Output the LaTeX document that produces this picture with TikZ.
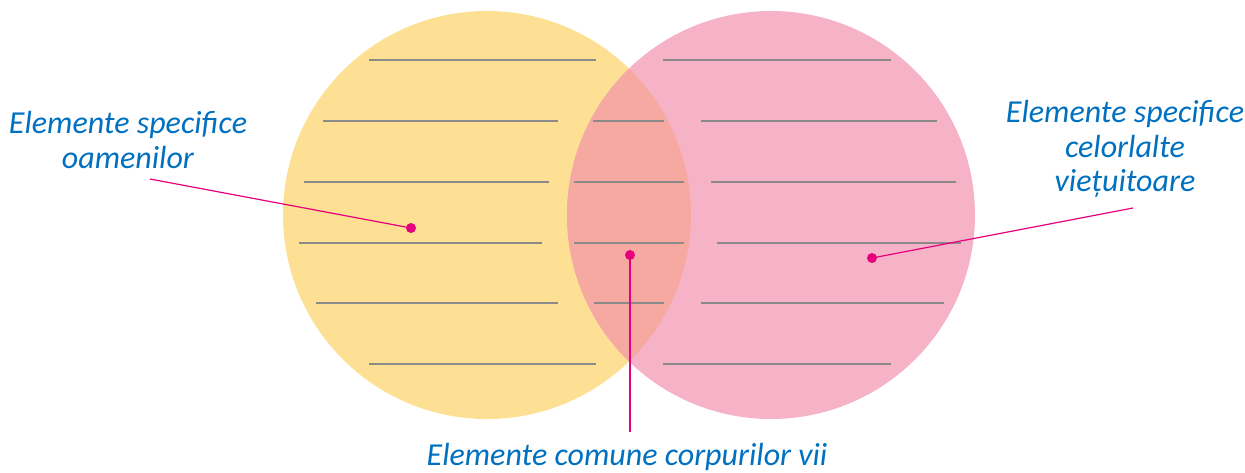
\documentclass[tikz,border=0pt]{standalone}
\usepackage{fontspec}
\setmainfont{Carlito}
\usepackage{tikz}
\usetikzlibrary{positioning}
\definecolor{setA}{HTML}{FDE093}
\definecolor{setB}{HTML}{F6B3C8}
\definecolor{setAB}{HTML}{F6A9A0}
\definecolor{rulegray}{HTML}{8A8A8A}
\definecolor{labelblue}{HTML}{0070C0}
\definecolor{pointer}{HTML}{E6007E}
\tikzset{
  rule/.style={draw=rulegray, line width=1.3pt},
  lbl/.style={text=labelblue, font=\fontsize{32}{34.5}\selectfont\itshape, align=center, inner sep=0pt},
  pin/.style={draw=pointer, line width=1.2pt},
  pindot/.style={circle, fill=pointer, inner sep=0pt, minimum size=10pt}
}
\begin{document}
\begin{tikzpicture}[x=1pt,y=-1pt]
\useasboundingbox (0,0) rectangle (1245,472);
% the two sets
\fill[setA] (487,215) circle (204);
\fill[setB] (771,215) circle (204);
\begin{scope}
\clip (487,215) circle (204);
\fill[setAB] (771,215) circle (204);
\end{scope}
% writing lines
\foreach \y/\a/\b in {60/369/596,121/323/558,182/304/549,243/299/542,303/316/558,364/369/596} {
\draw[rule] (\a,\y) -- (\b,\y);
}
\foreach \y/\a/\b in {121/593/664,182/574/684,243/574/684,303/594/664} {
\draw[rule] (\a,\y) -- (\b,\y);
}
\foreach \y/\a/\b in {60/663/891,121/701/937,182/711/956,243/717/961,303/701/944,364/663/891} {
\draw[rule] (\a,\y) -- (\b,\y);
}
% labels
\node[lbl] (oameni) at (128,140) {Elemente specifice\\oamenilor};
\node[lbl] (vietuitoare) at (1125,149) {Elemente specifice\\celorlalte\\viețuitoare};
\node[lbl] (comune) at (627,457) {Elemente comune corpurilor vii};
% pointers
\node[pindot] (dotA) at (411,228) {};
\node[pindot] (dotAB) at (630,255) {};
\node[pindot] (dotB) at (872,258) {};
\coordinate (endA) at (150,179);
\coordinate (endAB) at (630,432);
\coordinate (endB) at (1133,208);
\draw[pin] (endA) -- (dotA.center);
\draw[pin] (endAB) -- (dotAB.center);
\draw[pin] (endB) -- (dotB.center);
\end{tikzpicture}
\end{document}
